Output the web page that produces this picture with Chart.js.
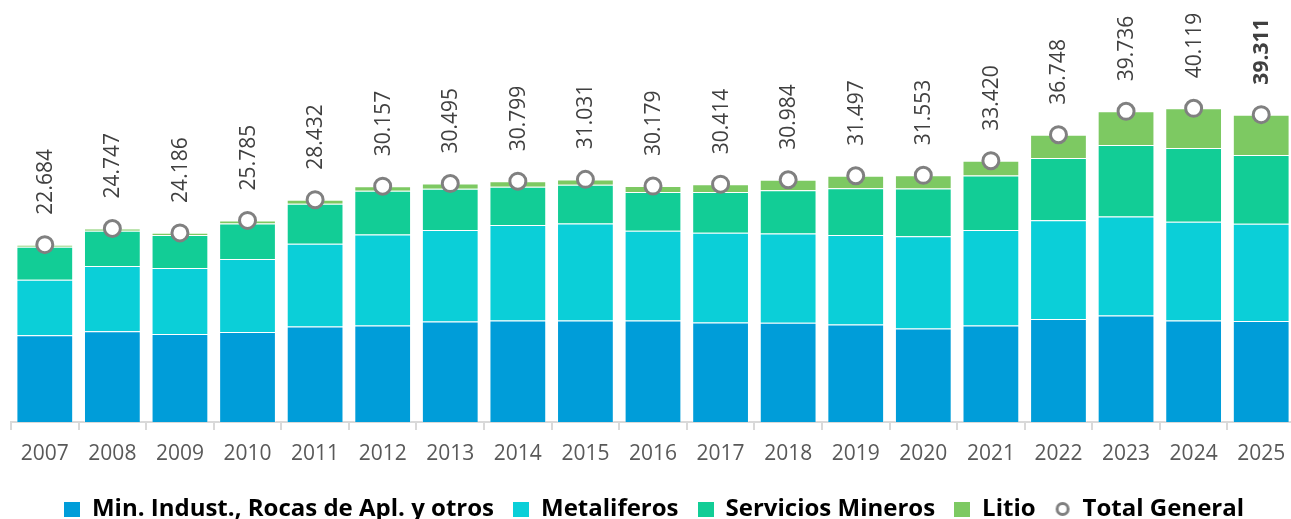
<!DOCTYPE html>
<html>
<head>
<meta charset="utf-8">
<script src="https://cdn.jsdelivr.net/npm/chart.js@4.4.1/dist/chart.umd.min.js"></script>
<style>
html,body{margin:0;padding:0;background:#fff;overflow:hidden;}
#wrap{position:absolute;left:0;top:0;width:1306px;height:519px;}
</style>
</head>
<body>
<div id="wrap"><canvas id="c" width="1306" height="519"></canvas></div>
<script>
const years = ['2007','2008','2009','2010','2011','2012','2013','2014','2015','2016','2017','2018','2019','2020','2021','2022','2023','2024','2025'];
const minIndust = [11100, 11600, 11250, 11500, 12200, 12350, 12860, 12990, 12990, 12990, 12730, 12690, 12470, 11960, 12350, 13160, 13630, 12990, 12910];
const metaliferos = [7100, 8350, 8450, 9360, 10600, 11620, 11710, 12210, 12390, 11460, 11460, 11410, 11460, 11800, 12220, 12640, 12650, 12610, 12440];
const serviciosMineros = [4200, 4500, 4230, 4520, 5100, 5600, 5260, 4890, 4970, 4950, 5210, 5550, 5980, 6110, 6970, 7960, 9140, 9440, 8790];
const litio = [280, 300, 260, 400, 530, 590, 670, 710, 680, 780, 1010, 1330, 1590, 1680, 1880, 2990, 4320, 5080, 5170];
const totalGeneral = [22684, 24747, 24186, 25785, 28432, 30157, 30495, 30799, 31031, 30179, 30414, 30984, 31497, 31553, 33420, 36748, 39736, 40119, 39311];
const seriesNames = ['Min. Indust., Rocas de Apl. y otros', 'Metaliferos', 'Servicios Mineros', 'Litio', 'Total General'];
const seriesColors = ['#009DD9', '#0BCFD8', '#12CD96', '#7DC962'];

function fmt(v){ return String(v).replace(/\B(?=(\d{3})+(?!\d))/g, '.'); }

function squareIcon(color){
  const c = document.createElement('canvas'); c.width = 16; c.height = 15;
  const x = c.getContext('2d'); x.fillStyle = color; x.fillRect(0,0,16,15); return c;
}
function circleIcon(){
  const c = document.createElement('canvas'); c.width = 16; c.height = 16;
  const x = c.getContext('2d'); x.beginPath(); x.arc(8,8,5.5,0,Math.PI*2);
  x.fillStyle = '#fff'; x.fill(); x.lineWidth = 3; x.strokeStyle = '#808080'; x.stroke(); return c;
}
const icons = [squareIcon(seriesColors[0]), squareIcon(seriesColors[1]), squareIcon(seriesColors[2]), squareIcon(seriesColors[3]), circleIcon()];

const barData = [minIndust, metaliferos, serviciosMineros, litio];
const datasets = barData.map((d, i) => ({
  type: 'bar',
  label: seriesNames[i],
  data: d,
  backgroundColor: seriesColors[i],
  borderColor: 'rgba(255,255,255,0.35)',
  borderWidth: 1,
  stack: 'bars',
  order: 1,
  categoryPercentage: 1.0,
  barPercentage: 0.84
}));
datasets.push({
  type: 'line',
  label: seriesNames[4],
  data: totalGeneral,
  showLine: false,
  stack: 'total',
  order: 0,
  pointStyle: 'circle',
  pointRadius: 8,
  pointHoverRadius: 8,
  pointBorderWidth: 3,
  pointBorderColor: '#808080',
  pointBackgroundColor: '#ffffff'
});

const labelPlugin = {
  id: 'totLabels',
  afterDatasetsDraw(chart){
    const meta = chart.getDatasetMeta(4);
    const ctx = chart.ctx;
    meta.data.forEach((pt, i) => {
      const last = i === totalGeneral.length - 1;
      ctx.save();
      ctx.translate(pt.x, pt.y - 30);
      ctx.rotate(-Math.PI/2);
      ctx.font = (last ? 'bold ' : '') + '21px "Open Sans"';
      ctx.fillStyle = '#404040';
      ctx.textAlign = 'left';
      ctx.textBaseline = 'middle';
      ctx.fillText(fmt(totalGeneral[i]), 0, 1);
      ctx.restore();
    });
  }
};

new Chart(document.getElementById('c'), {
  data: { labels: years, datasets },
  plugins: [labelPlugin],
  options: {
    responsive: false,
    animation: false,
    devicePixelRatio: 1,
    layout: { padding: { left: 9, right: 7, top: 10, bottom: -12 } },
    scales: {
      x: {
        stacked: true,
        offset: true,
        grid: { display: true, drawOnChartArea: false, drawTicks: true, tickLength: 8, color: '#D9D9D9', lineWidth: 2, offset: true },
        border: { display: true, color: '#D9D9D9', width: 2 },
        ticks: { color: '#595959', font: { family: 'Open Sans', size: 21 }, padding: 11, maxRotation: 0, autoSkip: false },
        afterFit(s){ s.height = 56; }
      },
      y: {
        stacked: true,
        display: false,
        min: 0,
        max: 52564
      }
    },
    plugins: {
      tooltip: { enabled: false },
      legend: {
        position: 'bottom',
        labels: {
          usePointStyle: true,
          boxWidth: 16,
          boxHeight: 16,
          padding: 19,
          color: '#000000',
          font: { family: 'Open Sans', size: 24, weight: 'bold' },
          generateLabels(chart){
            const items = Chart.defaults.plugins.legend.labels.generateLabels(chart);
            items.sort((a,b) => a.datasetIndex - b.datasetIndex);
            items.forEach(it => { it.pointStyle = icons[it.datasetIndex]; it.text = seriesNames[it.datasetIndex]; });
            return items;
          }
        }
      }
    }
  }
});
</script>
</body>
</html>
